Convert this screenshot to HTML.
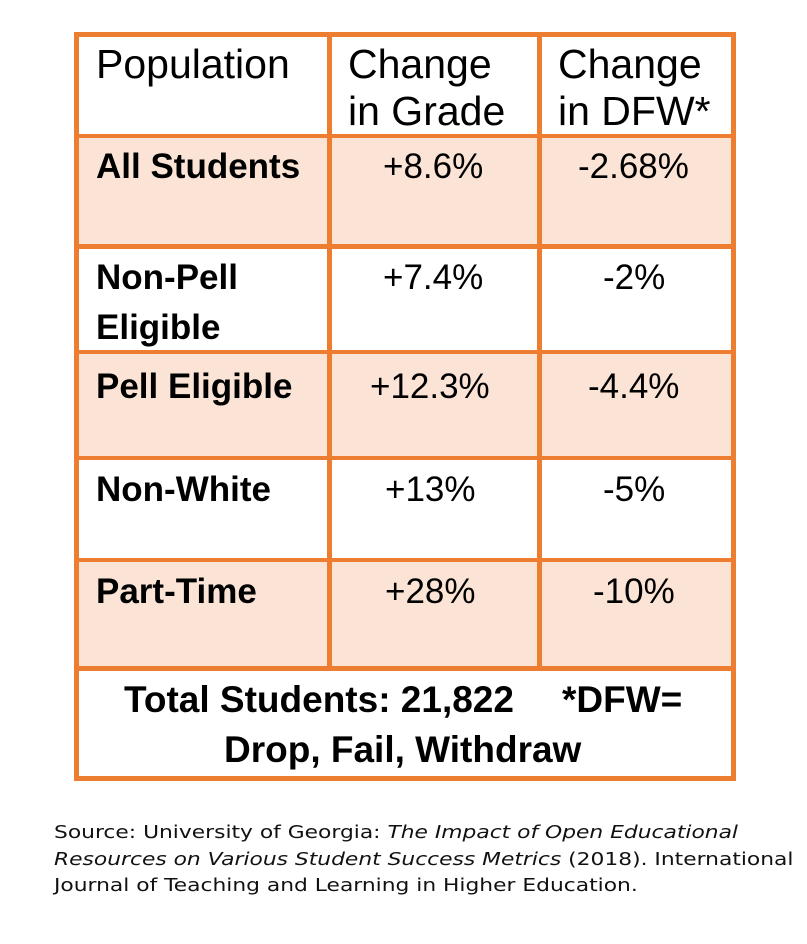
<!DOCTYPE html>
<html><head><style>
body{margin:0;width:807px;height:944px;background:#fff;position:relative;font-family:"Liberation Sans",sans-serif;overflow:hidden}
.b{position:absolute;background:#ed7d31}
.f{position:absolute;background:#fbe4d6}
.t{position:absolute;color:#000;white-space:nowrap}
.h{font-size:41px;line-height:47px}
.c{font-size:35px;font-weight:bold;line-height:50px}
.v{font-size:35px;line-height:50px}
.ft{font-size:37px;font-weight:bold;line-height:50px}
.src{position:absolute;left:54px;top:820px;font-family:"DejaVu Sans",sans-serif;font-size:18px;line-height:26.5px;color:#111;transform:scaleX(1.21);transform-origin:0 0;white-space:nowrap}
</style></head><body>
<div class="f" style="left:78px;top:138px;width:656px;height:108px"></div>
<div class="f" style="left:78px;top:354px;width:656px;height:104px"></div>
<div class="f" style="left:78px;top:562px;width:656px;height:106px"></div>
<div class="b" style="left:74px;top:32px;width:662px;height:5px"></div>
<div class="b" style="left:74px;top:776px;width:662px;height:5px"></div>
<div class="b" style="left:74px;top:32px;width:5px;height:749px"></div>
<div class="b" style="left:731px;top:32px;width:5px;height:749px"></div>
<div class="b" style="left:327px;top:32px;width:5px;height:638px"></div>
<div class="b" style="left:537px;top:32px;width:5px;height:638px"></div>
<div class="b" style="left:74px;top:134px;width:662px;height:4px"></div>
<div class="b" style="left:74px;top:244px;width:662px;height:5px"></div>
<div class="b" style="left:74px;top:350px;width:662px;height:4px"></div>
<div class="b" style="left:74px;top:456px;width:662px;height:4px"></div>
<div class="b" style="left:74px;top:558px;width:662px;height:4px"></div>
<div class="b" style="left:74px;top:666px;width:662px;height:5px"></div>

<div class="t h" style="left:96px;top:41px">Population</div>
<div class="t h" style="left:348px;top:41px">Change<br>in Grade</div>
<div class="t h" style="left:558px;top:41px">Change<br>in DFW*</div>

<div class="t c" style="left:96px;top:142px">All Students</div>
<div class="t v" style="left:383px;top:142px">+8.6%</div>
<div class="t v" style="left:578px;top:142px">-2.68%</div>

<div class="t c" style="left:96px;top:253px">Non-Pell<br>Eligible</div>
<div class="t v" style="left:383px;top:253px">+7.4%</div>
<div class="t v" style="left:603px;top:253px">-2%</div>

<div class="t c" style="left:96px;top:362px">Pell Eligible</div>
<div class="t v" style="left:370px;top:362px">+12.3%</div>
<div class="t v" style="left:588px;top:362px">-4.4%</div>

<div class="t c" style="left:96px;top:465px">Non-White</div>
<div class="t v" style="left:385px;top:465px">+13%</div>
<div class="t v" style="left:603px;top:465px">-5%</div>

<div class="t c" style="left:96px;top:567px">Part-Time</div>
<div class="t v" style="left:385px;top:567px">+28%</div>
<div class="t v" style="left:593px;top:567px">-10%</div>

<div class="t ft" style="left:124px;top:675px">Total Students: 21,822</div>
<div class="t ft" style="left:562px;top:675px">*DFW=</div>
<div class="t ft" style="left:224px;top:725px">Drop, Fail, Withdraw</div>

<div class="src">Source: University of Georgia: <i>The Impact of Open Educational</i><br><i>Resources on Various Student Success Metrics</i> (2018). International<br>Journal of Teaching and Learning in Higher Education.</div>
</body></html>
